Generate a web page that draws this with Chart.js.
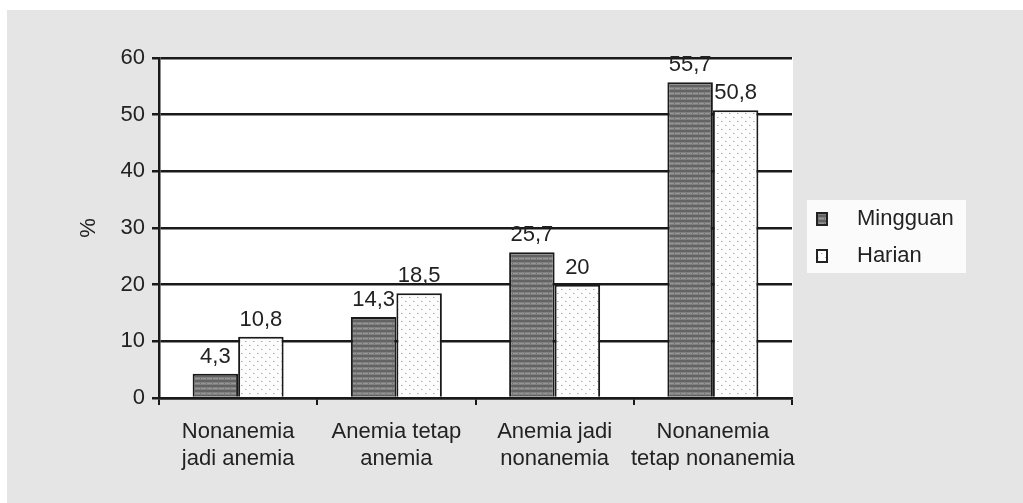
<!DOCTYPE html>
<html>
<head>
<meta charset="utf-8">
<script src="https://cdn.jsdelivr.net/npm/chart.js@4/dist/chart.umd.min.js"></script>
<style>
html,body{margin:0;padding:0;background:#ffffff;}
#wrap{position:absolute;left:0;top:0;width:1023px;height:503px;}
</style>
</head>
<body>
<div id="wrap"><canvas id="c" width="1023" height="503"></canvas></div>
<script>
const categories = [
  ['Nonanemia', 'jadi anemia'],
  ['Anemia tetap', 'anemia'],
  ['Anemia jadi', 'nonanemia'],
  ['Nonanemia', 'tetap nonanemia']
];
const seriesNames = ['Mingguan', 'Harian'];
const mingguan = [4.3, 14.3, 25.7, 55.7];
const harian = [10.8, 18.5, 20, 50.8];
const yTicks = [0, 10, 20, 30, 40, 50, 60];
const yAxisTitle = '%';

const FONT = '"Liberation Sans", Arial, sans-serif';
const TXT = '#222222';
const LINE = '#1a1a1a';

const canvas = document.getElementById('c');
const ctx = canvas.getContext('2d');

function darkPattern() {
  const t = document.createElement('canvas');
  t.width = 6; t.height = 5;
  const x = t.getContext('2d');
  x.fillStyle = '#808080'; x.fillRect(0, 0, 6, 5);
  x.fillStyle = '#636363'; x.fillRect(0, 0, 6, 2);
  x.fillStyle = '#969696'; x.fillRect(0, 3, 6, 1);
  x.fillStyle = '#6e6e6e'; x.fillRect(2, 3, 1, 1);
  return ctx.createPattern(t, 'repeat');
}
function dotPattern() {
  const t = document.createElement('canvas');
  t.width = 8; t.height = 8;
  const x = t.getContext('2d');
  x.fillStyle = '#fdfdfd'; x.fillRect(0, 0, 8, 8);
  x.fillStyle = '#aaaaaa';
  x.fillRect(1, 1, 1, 1);
  x.fillRect(5, 5, 1, 1);
  x.fillStyle = '#d6d6d6';
  x.fillRect(2, 1, 1, 1);
  x.fillRect(6, 5, 1, 1);
  return ctx.createPattern(t, 'repeat');
}
const fills = [darkPattern(), dotPattern()];

const fmt = v => String(v).replace('.', ',');

const bgPlugin = {
  id: 'bg',
  beforeDraw(chart) {
    const c = chart.ctx, a = chart.chartArea;
    c.save();
    c.fillStyle = '#ffffff';
    c.fillRect(0, 0, chart.width, chart.height);
    c.fillStyle = '#e5e5e5';
    c.fillRect(7, 10, chart.width - 7, chart.height - 10);
    c.fillStyle = '#ffffff';
    c.fillRect(a.left, a.top - 1, a.right - a.left + 1, a.bottom - a.top + 1);
    c.restore();
  }
};

const valueLabels = {
  id: 'valueLabels',
  afterDatasetsDraw(chart) {
    const c = chart.ctx;
    c.save();
    c.font = '22px ' + FONT;
    c.fillStyle = TXT;
    c.textAlign = 'center';
    c.textBaseline = 'alphabetic';
    chart.data.datasets.forEach((ds, i) => {
      const meta = chart.getDatasetMeta(i);
      meta.data.forEach((el, j) => {
        c.fillText(fmt(ds.data[j]), el.x, el.y - 11);
      });
    });
    c.restore();
  }
};

const sideLegend = {
  id: 'sideLegend',
  afterDraw(chart) {
    const c = chart.ctx;
    const bx = 807, by = 200, bw = 159, bh = 73;
    c.save();
    c.fillStyle = '#fbfbfb';
    c.fillRect(bx, by, bw, bh);
    c.font = '22px ' + FONT;
    c.textBaseline = 'middle';
    c.textAlign = 'left';
    chart.data.datasets.forEach((ds, i) => {
      const my = 213 + i * 37;
      c.fillStyle = ds.backgroundColor;
      c.fillRect(817, my, 10, 12);
      c.strokeStyle = '#222222';
      c.lineWidth = 2;
      c.strokeRect(817, my, 10, 12);
      c.fillStyle = TXT;
      c.fillText(ds.label, 857, my + 6);
    });
    c.restore();
  }
};

new Chart(canvas, {
  type: 'bar',
  data: {
    labels: categories,
    datasets: [
      { label: seriesNames[0], data: mingguan, backgroundColor: fills[0], borderColor: LINE, borderWidth: 2, borderSkipped: 'bottom' },
      { label: seriesNames[1], data: harian, backgroundColor: fills[1], borderColor: LINE, borderWidth: 2, borderSkipped: 'bottom' }
    ]
  },
  options: {
    responsive: false,
    animation: false,
    events: [],
    categoryPercentage: 0.575,
    barPercentage: 1.0,
    layout: { padding: { left: 0, top: 58, right: 231, bottom: 0 } },
    plugins: {
      legend: { display: false },
      tooltip: { enabled: false }
    },
    scales: {
      x: {
        offset: true,
        grid: { display: true, drawOnChartArea: false, drawTicks: true, tickLength: 7, color: LINE, lineWidth: 2, offset: true },
        border: { display: true, color: LINE, width: 2.5 },
        ticks: { color: TXT, font: { family: FONT, size: 22 }, padding: 14, maxRotation: 0, autoSkip: false },
        afterFit(s) { s.height = 105; }
      },
      y: {
        min: 0, max: 60,
        afterBuildTicks(s) { s.ticks = yTicks.map(v => ({ value: v })); },
        grid: { color: LINE, lineWidth: 2.5, drawTicks: true, tickLength: 7 },
        border: { display: true, color: LINE, width: 2.5 },
        ticks: { color: TXT, font: { family: FONT, size: 22 }, padding: 7 },
        title: { display: true, text: yAxisTitle, color: TXT, font: { family: FONT, size: 22 }, padding: { top: 76, bottom: 0 } },
        afterFit(s) { s.width = 159; }
      }
    }
  },
  plugins: [bgPlugin, valueLabels, sideLegend]
});
</script>
</body>
</html>
